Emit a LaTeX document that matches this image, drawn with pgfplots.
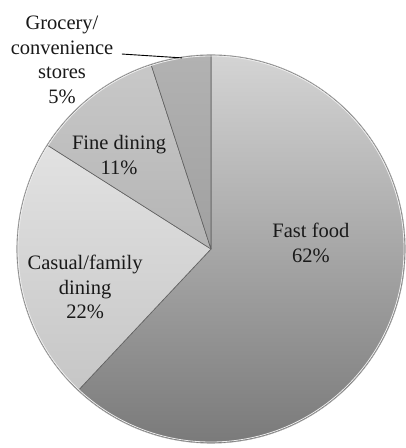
\documentclass[border=0pt]{standalone}
\usepackage{pgfplots}
\usepackage{pgfplotstable}
\pgfplotsset{compat=1.18}
\usepackage{fontspec}
\setmainfont{Liberation Serif}

% share of sales, in percent, clockwise from 12 o'clock
\pgfplotstableread{
value
62
22
11
5
}\piedata

\definecolor{s0top}{HTML}{D4D4D4}
\definecolor{s0bot}{HTML}{7A7A7A}
\definecolor{s1top}{HTML}{E2E2E2}
\definecolor{s1bot}{HTML}{C6C6C6}
\definecolor{s2top}{HTML}{C8C8C8}
\definecolor{s2bot}{HTML}{B4B4B4}
\definecolor{s3top}{HTML}{B2B2B2}
\definecolor{s3bot}{HTML}{A0A0A0}

\begin{document}
\begin{tikzpicture}
% start and end angles of the slices
\gdef\cum{0}
\foreach \k in {0,...,3} {
  \pgfplotstablegetelem{\k}{value}\of\piedata
  \pgfmathsetmacro\sa{90-3.6*\cum}
  \pgfmathsetmacro\ea{90-3.6*(\cum+\pgfplotsretval)}
  \pgfmathsetmacro\nc{\cum+\pgfplotsretval}
  \expandafter\xdef\csname sa\k\endcsname{\sa}
  \expandafter\xdef\csname ea\k\endcsname{\ea}
  \xdef\cum{\nc}
}
\begin{axis}[
  hide axis,
  x=194pt, y=194pt,
  xmin=-1.09, xmax=1.01,
  ymin=-1.03, ymax=1.29,
  clip=false,
]
\coordinate (C) at (axis cs:0,0);
\pgfplotsinvokeforeach{0,...,3}{
  \shadedraw[top color=s#1top, bottom color=s#1bot,
    draw=gray!75!black, line width=0.6pt, line join=round]
    (axis cs:0,0) -- ++(\csname sa#1\endcsname:194pt)
    arc[start angle=\csname sa#1\endcsname, end angle=\csname ea#1\endcsname, radius=194pt]
    -- cycle;
}
\draw[white!85!gray, line width=0.8pt] (axis cs:0,0) circle[radius=193pt];
\draw[gray!60, line width=0.5pt] (axis cs:0,0) circle[radius=194.3pt];

\draw[black, line width=0.9pt] (axis cs:-0.459,1.005) -- (axis cs:-0.149,0.985);

\begin{scope}[every node/.style={align=center, inner sep=0pt,
    font=\fontsize{20.5}{24.5}\selectfont, text=black!90}]
\node at (axis cs:0.515,0.031) {Fast food\\62\%};
\node at (axis cs:-0.649,-0.196) {Casual/family\\dining\\22\%};
\node at (axis cs:-0.474,0.485) {Fine dining\\11\%};
\node at (axis cs:-0.768,0.974) {Grocery/\\convenience\\stores\\5\%};
\end{scope}
\end{axis}
\pgfresetboundingbox
\path ([xshift=-211pt,yshift=249pt]C) rectangle ([xshift=195pt,yshift=-199pt]C);
\end{tikzpicture}
\end{document}
